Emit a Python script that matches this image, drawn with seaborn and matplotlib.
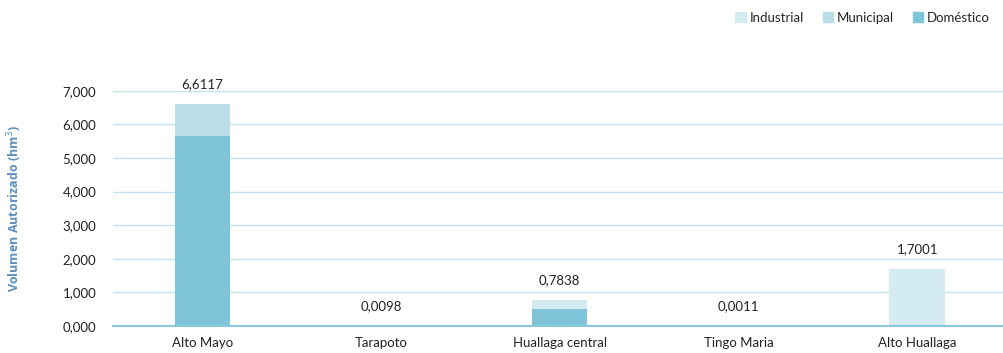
import pandas as pd
import matplotlib
matplotlib.use("Agg")
import matplotlib.pyplot as plt
import seaborn as sns
from matplotlib.patches import Patch
from matplotlib.ticker import FuncFormatter, FixedLocator

# valores en hm3
cuencas = ['Alto Mayo', 'Tarapoto', 'Huallaga central', 'Tingo Maria', 'Alto Huallaga']
domestico = [5.65, 0.0098, 0.52, 0.0011, 0.012]
municipal = [0.9617, 0.0, 0.0, 0.0, 0.0]
industrial = [0.0, 0.0, 0.2638, 0.0, 1.6881]
etiquetas = ['6,6117', '0,0098', '0,7838', '0,0011', '1,7001']

c_dom = '#7fc4d9'
c_mun = '#badde8'
c_ind = '#d5ebf2'

df = pd.DataFrame({'cuenca': cuencas, 'dom': domestico, 'mun': municipal, 'ind': industrial})
df['dom_mun'] = df['dom'] + df['mun']
df['total'] = df['dom_mun'] + df['ind']

sns.set_style('white')
plt.rcParams['font.family'] = ['Lato', 'DejaVu Sans']

fig = plt.figure(figsize=(10.04, 3.53), dpi=100)
ax = fig.add_axes([0.1125, 0.0765, 0.89, 0.666])

# barras apiladas: se dibuja el total y luego las capas inferiores encima
for col, c in [('total', c_ind), ('dom_mun', c_mun), ('dom', c_dom)]:
    sns.barplot(data=df, x='cuenca', y=col, color=c, width=0.31, saturation=1,
                linewidth=0, ax=ax)

for i, (tot, lab) in enumerate(zip(df['total'], etiquetas)):
    ax.annotate(lab, (i, tot), xytext=(0, 10), textcoords='offset points',
                ha='center', va='bottom', fontsize=9.5, color='#222222')

ax.set_xlim(-0.5, 4.5)
ax.set_ylim(0, 7)
ax.set_yticks(range(0, 8))
ax.yaxis.set_major_formatter(FuncFormatter(lambda v, p: f'{v:.3f}'.replace('.', ',')))
ax.yaxis.grid(True, color='#bfe2ed', linewidth=1)
ax.set_axisbelow(True)
for s in ['top', 'right', 'left']:
    ax.spines[s].set_visible(False)
ax.spines['bottom'].set_color('#8cc8dc')
ax.spines['bottom'].set_linewidth(1.5)
ax.tick_params(axis='y', length=0, labelsize=9.5, labelcolor='#222222', pad=12)
ax.tick_params(axis='x', length=0, labelsize=9.5, labelcolor='#222222', pad=8)
ax.xaxis.set_minor_locator(FixedLocator([-0.5, 0.5, 1.5, 2.5, 3.5]))
ax.tick_params(axis='x', which='minor', direction='in', length=4, color='#8cc8dc', width=1.2)
ax.set_xlabel('')
ax.set_ylabel('Volumen Autorizado (hm$^3$)', fontsize=9, fontweight='bold', color='#5b8fc0',
              labelpad=28, family=['Open Sans', 'DejaVu Sans'])

handles = [Patch(color=c_ind, label='Industrial'),
           Patch(color=c_mun, label='Municipal'),
           Patch(color=c_dom, label='Doméstico')]
fig.legend(handles=handles, loc='upper right', bbox_to_anchor=(0.998, 1.0), ncol=3, frameon=False,
           fontsize=9.5, handlelength=0.8, handleheight=0.8, handletextpad=0.3, columnspacing=1.4)

fig.savefig('out.png', dpi=100)
